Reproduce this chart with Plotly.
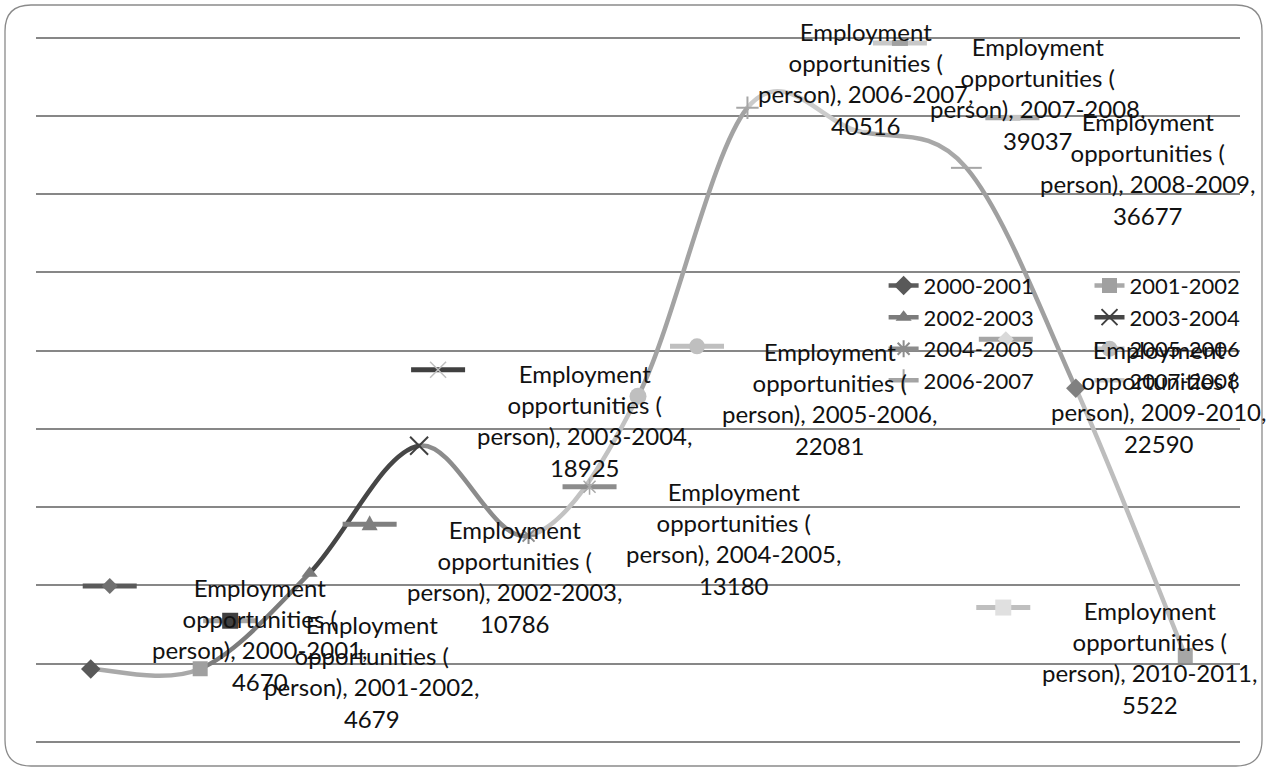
import plotly.graph_objects as go

# ---------------- data ----------------
series_name = "Employment opportunities ( person)"
categories = ["2000-2001", "2001-2002", "2002-2003", "2003-2004", "2004-2005", "2005-2006",
              "2006-2007", "2007-2008", "2008-2009", "2009-2010", "2010-2011"]
values = [4670, 4679, 10786, 18925, 13180, 22081, 40516, 39037, 36677, 22590, 5522]

# ---------------- styles ----------------
line_colors = ["#5c5c5c", "#a9a9a9", "#7c7c7c", "#464646", "#8c8c8c", "#c2c2c2",
               "#a3a3a3", "#cbcbcb", "#a8a8a8", "#a0a0a0", "#bdbdbd"]
marker_colors = ["#595959", "#a0a0a0", "#7a7a7a", "#404040", "#8c8c8c", "#bfbfbf",
                 "#a6a6a6", "#d0d0d0", "#a6a6a6", "#808080", "#a6a6a6"]
symbols = ["diamond", "square", "triangle-up", "x-thin-open", "asterisk-open", "circle",
           "cross-thin-open", "line-ew-open", "line-ew-open", "diamond", "square"]
marker_sizes = [15, 15, 14, 18, 14, 17, 16, 18, 22, 15, 15]

# data-label placement (pixel offsets from the point: right / up)
label_dx = [169, 172, 205, 166, 205, 192, 119, 181, 182, 83, -35]
label_dy = [34, -3, -3, 25, -3, -2, 29, 37, -1, -8, -2]
# legend-key placement inside each data label (pixel offsets: right / up)
key_dx = [19, 30, 60, 19, 61, 59, -7, 43, 46, -70, -182]
key_dy = [83, 48, 49, 76, 49, 50, 81, 88, 50, 49, 48]
key_line_colors = ["#5a5a5a", "#a6a6a6", "#7f7f7f", "#404040", "#8c8c8c", "#bfbfbf",
                   "#a0a0a0", "#c8c8c8", "#a6a6a6", "#a6a6a6", "#bfbfbf"]
key_marker_colors = ["#707070", "#404040", "#7f7f7f", "#c0c0c0", "#a8a8a8", "#bfbfbf",
                     "#8c8c8c", "#a0a0a0", "#c4c4c4", "#d9d9d9", "#e0e0e0"]
key_kinds = ["diamond", "square", "triangle", "x", "star", "circle", "plus", "dash", "dash",
             "diamond", "square"]

FONT = "Lato"

fig = go.Figure()
n = len(values)
xs = list(range(n))

# markers (one trace per category so the legend lists categories)
for i in range(n):
    open_sym = symbols[i].endswith("open")
    fig.add_trace(go.Scatter(
        x=[xs[i]], y=[values[i]], name=categories[i], mode="lines+markers",
        line=dict(color=line_colors[i], width=4.5),
        marker=dict(symbol=symbols[i], size=marker_sizes[i], color=marker_colors[i],
                    line=dict(color=marker_colors[i], width=(2 if open_sym else 0))),
        legend=("legend" if i % 2 == 0 else "legend2"),
        showlegend=(i < 8),
        hoverinfo="skip",
    ))

shapes = []
# smoothed line segments (Bezier through the data points, coloured by end point)
for i in range(n - 1):
    p0 = max(i - 1, 0)
    p3 = min(i + 2, n - 1)
    c1x = xs[i] + (xs[i + 1] - xs[p0]) / 6
    c1y = values[i] + (values[i + 1] - values[p0]) / 6
    c2x = xs[i + 1] - (xs[p3] - xs[i]) / 6
    c2y = values[i + 1] - (values[p3] - values[i]) / 6
    shapes.append(dict(
        type="path", xref="x", yref="y",
        path=f"M {xs[i]},{values[i]} C {c1x},{c1y} {c2x},{c2y} {xs[i+1]},{values[i+1]}",
        line=dict(color=line_colors[i + 1], width=4.5), fillcolor="rgba(0,0,0,0)",
        layer="between"))


def key_marker_path(kind, cx, cy):
    s = 8
    if kind == "diamond":
        return f"M {cx},{cy+s} L {cx+s},{cy} L {cx},{cy-s} L {cx-s},{cy} Z", True
    if kind == "square":
        return f"M {cx-s},{cy-s} L {cx+s},{cy-s} L {cx+s},{cy+s} L {cx-s},{cy+s} Z", True
    if kind == "triangle":
        return f"M {cx-s},{cy-6} L {cx+s},{cy-6} L {cx},{cy+9} Z", True
    if kind == "x":
        return f"M {cx-s},{cy-s} L {cx+s},{cy+s} M {cx-s},{cy+s} L {cx+s},{cy-s}", False
    if kind == "star":
        return (f"M {cx-6},{cy-6} L {cx+6},{cy+6} M {cx-6},{cy+6} L {cx+6},{cy-6} "
                f"M {cx},{cy-8} L {cx},{cy+8}"), False
    if kind == "plus":
        return f"M {cx-s},{cy} L {cx+s},{cy} M {cx},{cy-s} L {cx},{cy+s}", False
    if kind == "dash":
        return f"M {cx-8},{cy-3} L {cx+8},{cy-3} L {cx+8},{cy+3} L {cx-8},{cy+3} Z", True
    return None, False


# legend keys inside the data labels
for i in range(n):
    base = dict(xref="x", yref="y", xsizemode="pixel", ysizemode="pixel",
                xanchor=xs[i], yanchor=values[i], layer="above")
    cx, cy = key_dx[i], key_dy[i]
    shapes.append(dict(type="line", x0=cx - 27, x1=cx + 27, y0=cy, y1=cy,
                       line=dict(color=key_line_colors[i], width=5), **base))
    if key_kinds[i] == "circle":
        shapes.append(dict(type="circle", x0=cx - 8, x1=cx + 8, y0=cy - 8, y1=cy + 8,
                           fillcolor=key_marker_colors[i], line=dict(width=0), **base))
    else:
        p, filled = key_marker_path(key_kinds[i], cx, cy)
        if filled:
            shapes.append(dict(type="path", path=p, fillcolor=key_marker_colors[i],
                               line=dict(width=0), **base))
        else:
            shapes.append(dict(type="path", path=p, fillcolor="rgba(0,0,0,0)",
                               line=dict(color=key_marker_colors[i], width=1.5), **base))

# rounded chart border (pixel path relative to plot-area bottom-left)
r = 26
L, R, B, T = -31, 1226, -24, 737
shapes.append(dict(
    type="path", xref="paper", yref="paper", xsizemode="pixel", ysizemode="pixel",
    xanchor=0, yanchor=0, layer="below",
    path=(f"M {L+r},{B} L {R-r},{B} Q {R},{B} {R},{B+r} L {R},{T-r} Q {R},{T} {R-r},{T} "
          f"L {L+r},{T} Q {L},{T} {L},{T-r} L {L},{B+r} Q {L},{B} {L+r},{B} Z"),
    line=dict(color="#8a8a8a", width=1.3), fillcolor="rgba(0,0,0,0)"))

# data labels
annotations = []
for i in range(n):
    annotations.append(dict(
        x=xs[i], y=values[i], xref="x", yref="y", showarrow=False,
        text=f"Employment<br>opportunities (<br>person), {categories[i]},<br>{values[i]}",
        xshift=label_dx[i], yshift=label_dy[i], align="center",
        xanchor="center", yanchor="middle",
        font=dict(family=FONT, size=24, color="#111111")))

legend_common = dict(yanchor="top", xanchor="left", bgcolor="rgba(0,0,0,0)",
                     font=dict(family=FONT, size=22, color="#111111"),
                     tracegroupgap=0, itemclick=False)

fig.update_layout(
    width=1266, height=769,
    margin=dict(l=36, r=26, t=36, b=27),
    paper_bgcolor="white", plot_bgcolor="white",
    xaxis=dict(range=[-0.5, 10.5], showgrid=False, zeroline=False, showticklabels=False,
               ticks="", showline=False),
    yaxis=dict(range=[0, 45100], dtick=5000, showgrid=True, gridcolor="#878787",
               gridwidth=1.5, zeroline=True, zerolinecolor="#878787", zerolinewidth=1.5,
               showticklabels=False, ticks="", showline=False),
    legend=dict(x=0.704, y=0.676, **legend_common),
    legend2=dict(x=0.875, y=0.676, **legend_common),
    shapes=shapes, annotations=annotations,
    font=dict(family=FONT),
)

fig.write_html("out.html")
